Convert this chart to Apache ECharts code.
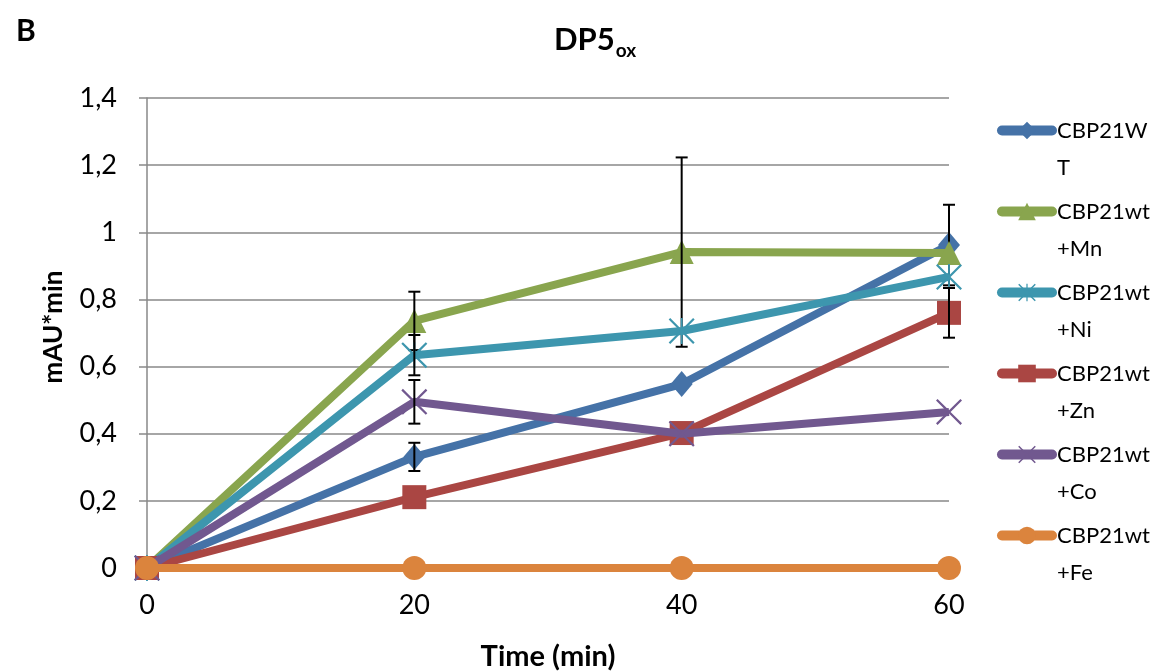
<!DOCTYPE html>
<html><head><meta charset="utf-8">
<script src="https://cdn.jsdelivr.net/npm/echarts@6/dist/echarts.min.js"></script>
<style>html,body{margin:0;padding:0;background:#fff}#c{width:1158px;height:672px}</style>
</head><body><div id="c"></div>
<script>
const times = [0, 20, 40, 60];
const seriesNames = ['CBP21WT', 'CBP21wt+Mn', 'CBP21wt+Ni', 'CBP21wt+Zn', 'CBP21wt+Co', 'CBP21wt+Fe'];
const legendLabels = ['CBP21W\nT', 'CBP21wt\n+Mn', 'CBP21wt\n+Ni', 'CBP21wt\n+Zn', 'CBP21wt\n+Co', 'CBP21wt\n+Fe'];
const yAxisTitle = 'mAU*min';
const wt = [0, 0.331, 0.548, 0.962];
const mn = [0, 0.736, 0.941, 0.938];
const ni = [0, 0.634, 0.706, 0.867];
const zn = [0, 0.211, 0.402, 0.760];
const co = [0, 0.495, 0.400, 0.465];
const fe = [0, 0, 0, 0];
// standard deviations
const wtErr = [0, 0.042, 0, 0.120];
const mnErr = [0, 0.087, 0.282, 0];
const niErr = [0, 0.06, 0, 0];
const znErr = [0, 0, 0, 0.074];
const coErr = [0, 0.065, 0, 0];
const feErr = [0, 0, 0, 0];
const yTicks = [0, 0.2, 0.4, 0.6, 0.8, 1, 1.2, 1.4];

const colors = ['#4572A7', '#89A54E', '#3D96AE', '#AA4643', '#71588F', '#DB843D'];
const values = [wt, mn, ni, zn, co, fe];
const errs = [wtErr, mnErr, niErr, znErr, coErr, feErr];
const xPath = 'path://M0,1.2 L1.2,0 L10,8.8 L18.8,0 L20,1.2 L11.2,10 L20,18.8 L18.8,20 L10,11.2 L1.2,20 L0,18.8 L8.8,10 Z';
const starPath = 'path://M0,1.2 L1.2,0 L10,8.8 L18.8,0 L20,1.2 L11.2,10 L20,18.8 L18.8,20 L10,11.2 L1.2,20 L0,18.8 L8.8,10 Z M9.3,0 L10.7,0 L10.7,20 L9.3,20 Z';
const symbols = ['diamond', 'triangle', starPath, 'rect', xPath, 'circle'];
const sizes = [[22, 26], 24, 26, 24, 26, 24];
const FONT = 'Lato, "Open Sans", sans-serif';

const series = [];
values.forEach((v, i) => {
  series.push({
    name: seriesNames[i], type: 'line', data: times.map((t, k) => [t, v[k]]),
    symbol: symbols[i], symbolSize: sizes[i], showAllSymbol: true,
    lineStyle: { width: 8, color: colors[i] }, itemStyle: { color: colors[i] },
    z: 2 + i * 2, animation: false
  });
  const ed = [];
  times.forEach((t, k) => { if (errs[i][k] > 0) ed.push([t, v[k] - errs[i][k], v[k] + errs[i][k]]); });
  if (ed.length) series.push({
    type: 'custom', name: 'err' + i, data: ed, z: 3 + i * 2, animation: false,
    renderItem: (params, api) => {
      const lo = api.coord([api.value(0), api.value(1)]);
      const hi = api.coord([api.value(0), api.value(2)]);
      const w = 6;
      const st = { stroke: '#000', lineWidth: 2 };
      return { type: 'group', children: [
        { type: 'line', shape: { x1: lo[0], y1: lo[1], x2: hi[0], y2: hi[1] }, style: st },
        { type: 'line', shape: { x1: lo[0] - w, y1: lo[1], x2: lo[0] + w, y2: lo[1] }, style: st },
        { type: 'line', shape: { x1: hi[0] - w, y1: hi[1], x2: hi[0] + w, y2: hi[1] }, style: st }
      ]};
    }
  });
});

const legends = seriesNames.map((n, i) => ({
  data: [n], left: 992, top: 70 + 81 * i, orient: 'vertical',
  itemWidth: 50, itemHeight: 22, itemGap: 0,
  lineStyle: { width: 10, cap: 'round' },
  formatter: () => ' \n' + legendLabels[i],
  textStyle: { fontFamily: FONT, fontSize: 22, color: '#000', lineHeight: 37 }
}));

const chart = echarts.init(document.getElementById('c'), null, { renderer: 'canvas' });
chart.setOption({
  animation: false,
  color: colors,
  title: [
    { text: 'B', left: 11, top: 11, textStyle: { fontFamily: FONT, fontWeight: 'bold', fontSize: 30, color: '#000' } },
    { text: '{m|DP5}{s|ox}', left: 590, top: 14, textAlign: 'center',
      textStyle: { fontSize: 31, fontFamily: FONT, fontWeight: 'bold', rich: {
        m: { fontFamily: FONT, fontWeight: 'bold', fontSize: 31, color: '#000' },
        s: { fontFamily: FONT, fontWeight: 'bold', fontSize: 19, color: '#000', padding: [22, 0, 0, 1] }
      } } }
  ],
  graphic: [{
    type: 'text', x: 54, y: 327, rotation: Math.PI / 2,
    style: { text: yAxisTitle, fill: '#000', font: 'bold 26px ' + FONT, align: 'center', verticalAlign: 'middle' }
  }],
  legend: legends,
  grid: { left: 147, right: 209, top: 98, bottom: 104, containLabel: false, outerBoundsMode: 'none' },
  xAxis: {
    type: 'value', min: 0, max: 60, interval: 20,
    name: 'Time (min)', nameLocation: 'middle', nameGap: 74,
    nameTextStyle: { fontFamily: FONT, fontWeight: 'bold', fontSize: 29, color: '#000' },
    axisLine: { show: true, lineStyle: { color: '#898989', width: 1.5 } },
    axisTick: { show: false }, splitLine: { show: false },
    axisLabel: { fontFamily: FONT, fontSize: 27, color: '#000', margin: 24 }
  },
  yAxis: {
    type: 'value', min: 0, max: 1.4, interval: 0.2,
    axisLine: { show: true, lineStyle: { color: '#898989', width: 1.5 } },
    axisTick: { show: true, length: 8, lineStyle: { color: '#898989', width: 1.5 } },
    splitLine: { show: true, lineStyle: { color: '#898989', width: 1.5 } },
    axisLabel: { fontFamily: FONT, fontSize: 27, color: '#000', margin: 30,
      formatter: v => { const t = yTicks.find(x => Math.abs(x - v) < 1e-9); return String(Math.round((t !== undefined ? t : v) * 10) / 10).replace('.', ','); } }
  },
  series: series
});
</script></body></html>
